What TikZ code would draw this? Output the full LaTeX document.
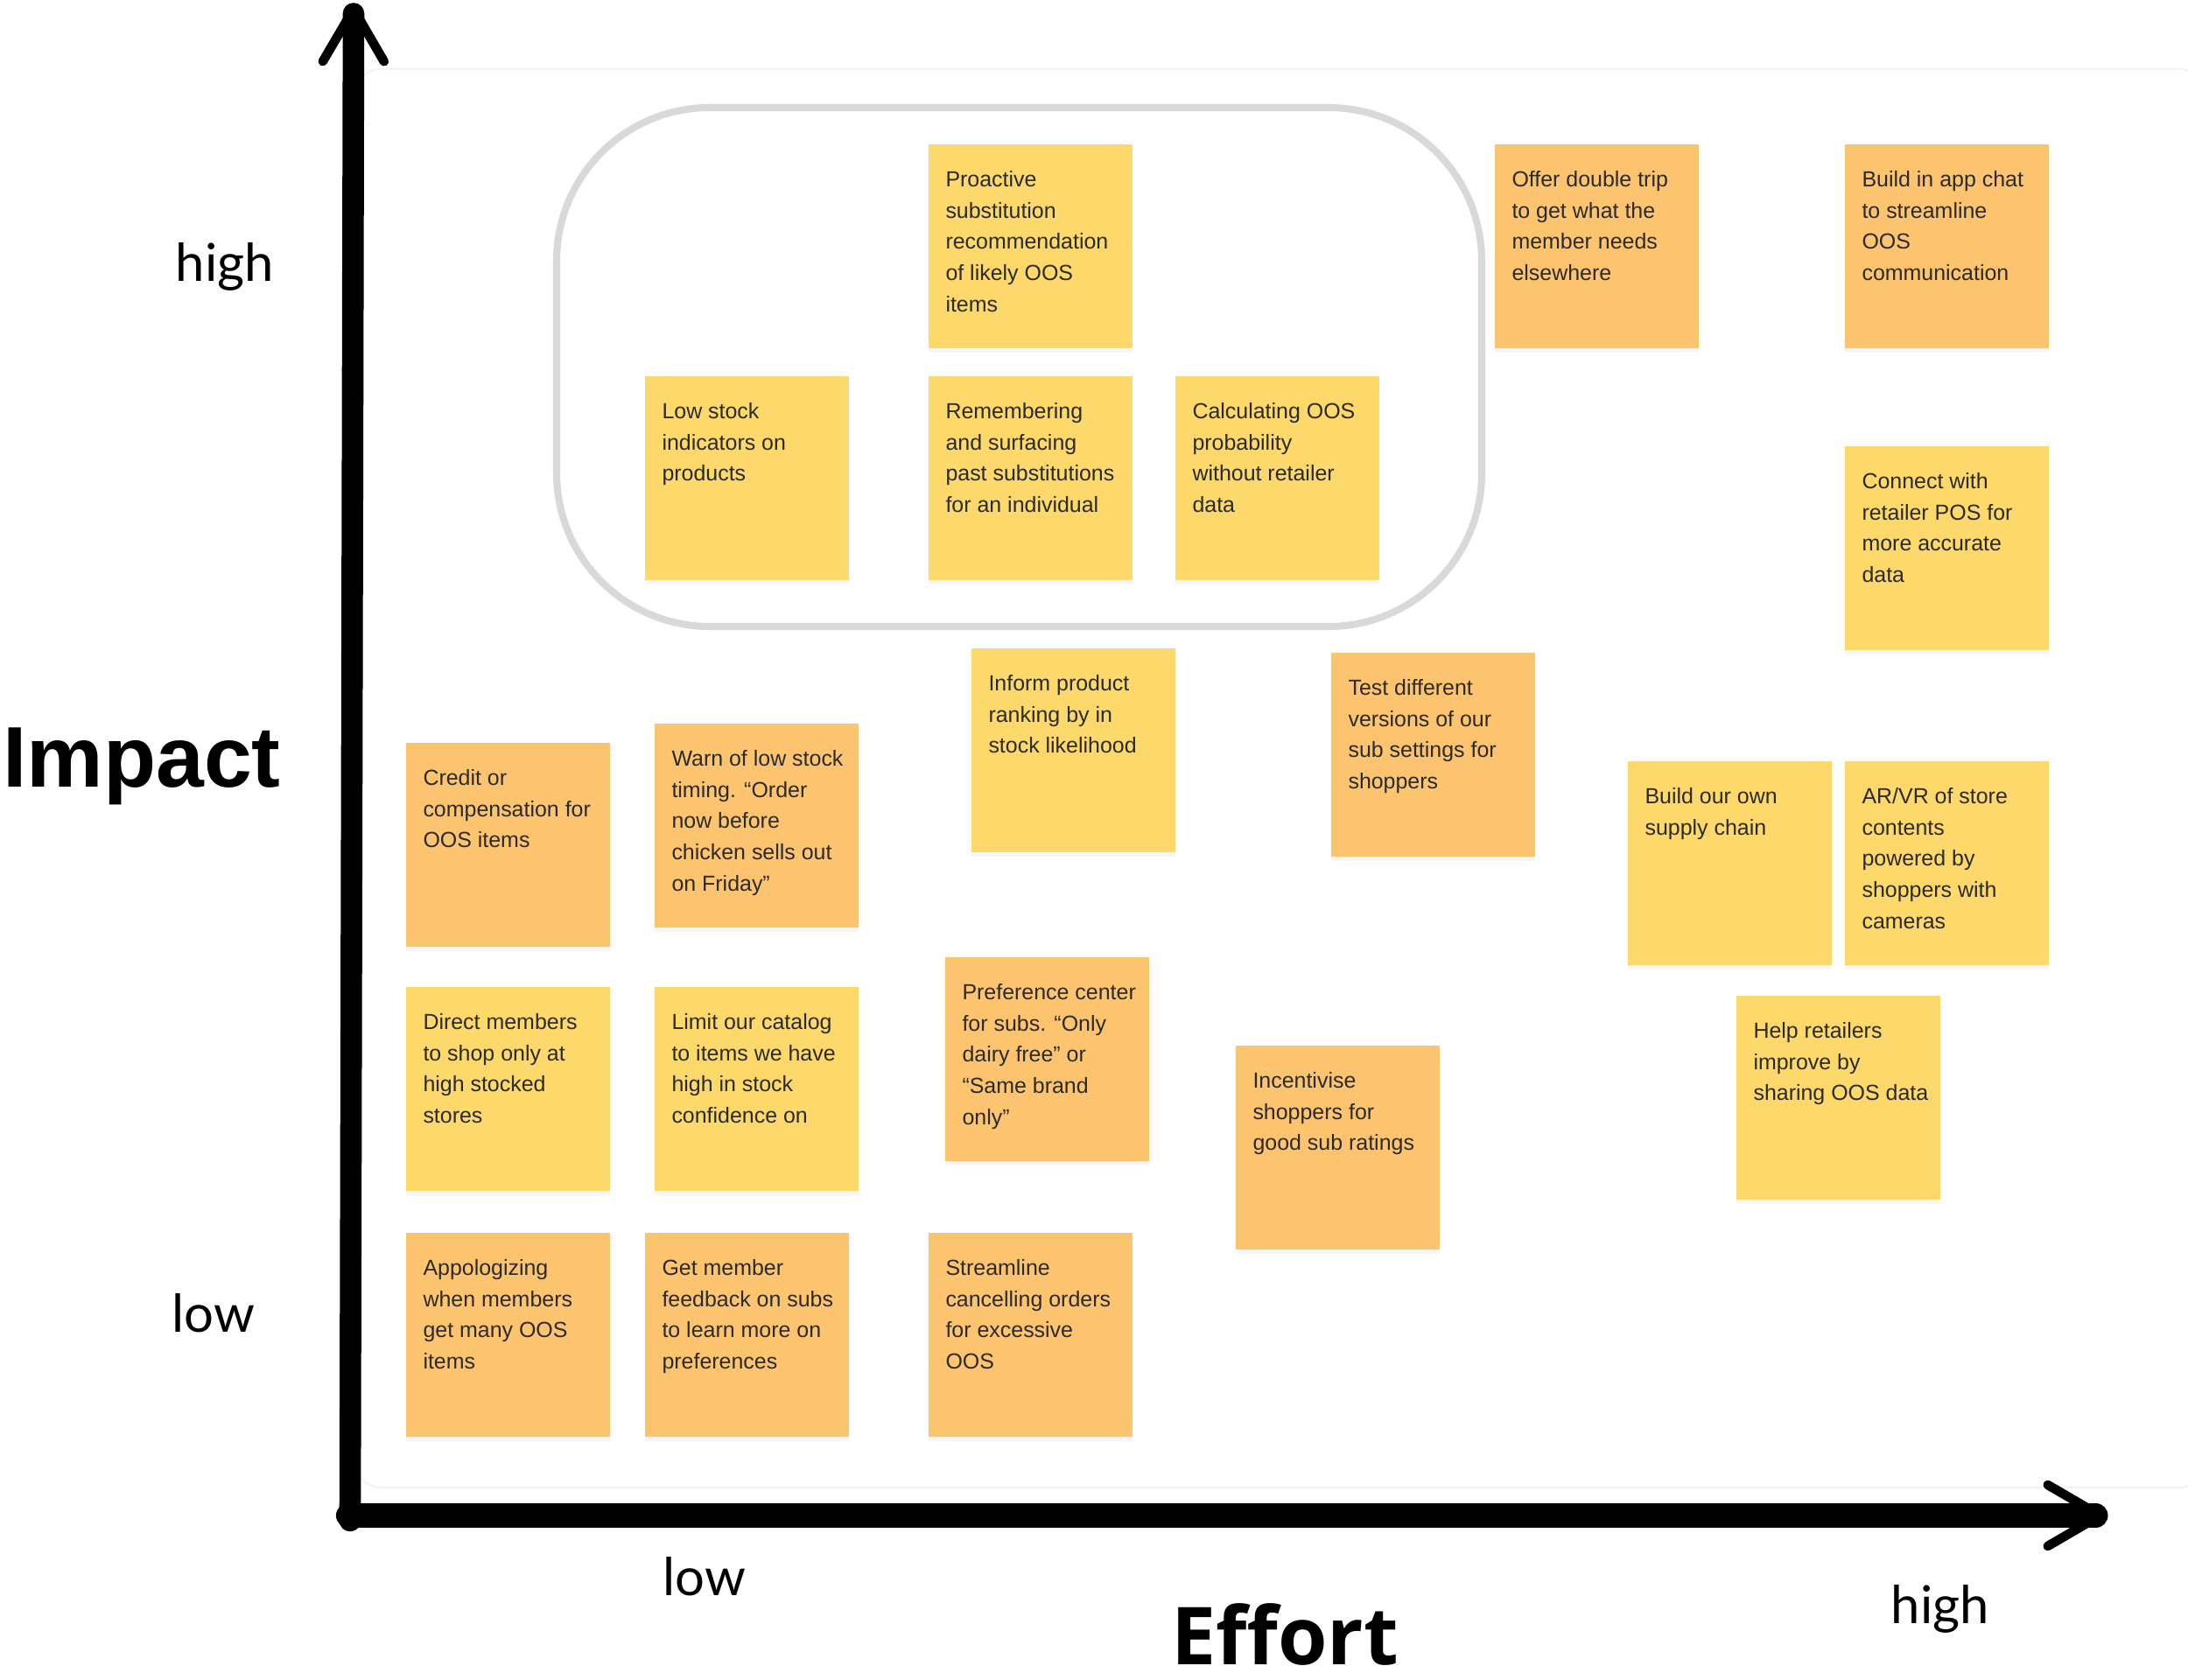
\documentclass[tikz,border=0pt]{standalone}
\usepackage{fontspec}
\setmainfont{Liberation Sans}
\newfontfamily\axisfont{Lato}
\newfontfamily\effortfont{Open Sans}
\usetikzlibrary{arrows.meta, shadows}
\definecolor{stickyyellow}{HTML}{FDD86B}
\definecolor{stickyorange}{HTML}{FDC470}
\definecolor{stickytext}{HTML}{2B2B2B}
\definecolor{groupgray}{HTML}{D9D9D9}
\definecolor{boardgray}{HTML}{F3F3F3}
\newcommand{\stickylines}[1]{\parbox[c][1.93cm][t]{1.93cm}{\vspace*{0.03cm}\raggedright\strut#1\par}}
\tikzset{
  sticky/.style={rectangle, fill=#1, minimum size=2.33cm, inner sep=0.2cm,
                 text=stickytext, font=\fontsize{7.1}{10.15}\selectfont,
                 drop shadow={shadow xshift=0pt, shadow yshift=-1.2pt, opacity=0.07}},
  axisline/.style={line width=#1, line cap=round,
                   -{Straight Barb[length=0.6cm, width=0.7cm, line width=3pt, round]}},
  axislabel/.style={font=\axisfont\fontsize{17}{17}\selectfont, anchor=base}
}

\begin{document}
\begin{tikzpicture}
    \useasboundingbox (0,0) rectangle (25,19.2);
    % board and grouping
    \draw[boardgray, line width=0.6pt, rounded corners=0.3cm] (4.05,2.2) rectangle (25.2,18.41);
    \draw[groupgray, line width=2.3pt, rounded corners=1.75cm] (6.36,12.04) rectangle (16.93,17.97);

    % high impact, low effort group
    \node[sticky=stickyyellow] (proactive) at (11.77,16.38)
        {\stickylines{Proactive\\ substitution\\ recommendation\\ of likely OOS\\ items}};
    \node[sticky=stickyyellow] (lowstock) at (8.53,13.73)
        {\stickylines{Low stock\\ indicators on\\ products}};
    \node[sticky=stickyyellow] (remember) at (11.77,13.73)
        {\stickylines{Remembering\\ and surfacing\\ past substitutions\\ for an individual}};
    \node[sticky=stickyyellow] (calculate) at (14.59,13.73)
        {\stickylines{Calculating OOS\\ probability\\ without retailer\\ data}};

    % high impact, high effort
    \node[sticky=stickyorange] (doubletrip) at (18.24,16.38)
        {\stickylines{Offer double trip\\ to get what the\\ member needs\\ elsewhere}};
    \node[sticky=stickyorange] (appchat) at (22.24,16.38)
        {\stickylines{Build in app chat\\ to streamline\\ OOS\\ communication}};
    \node[sticky=stickyyellow] (retailerpos) at (22.24,12.93)
        {\stickylines{Connect with\\ retailer POS for\\ more accurate\\ data}};

    % middle band
    \node[sticky=stickyyellow] (ranking) at (12.26,10.62)
        {\stickylines{Inform product\\ ranking by in\\ stock likelihood}};
    \node[sticky=stickyorange] (versions) at (16.37,10.57)
        {\stickylines{Test different\\ versions of our\\ sub settings for\\ shoppers}};
    \node[sticky=stickyorange] (credit) at (5.80,9.54)
        {\stickylines{Credit or\\ compensation for\\ OOS items}};
    \node[sticky=stickyorange] (warn) at (8.64,9.76)
        {\stickylines{\mbox{Warn of low stock}\\ timing. “Order\\ now before\\ chicken sells out\\ on Friday”}};
    \node[sticky=stickyyellow] (supply) at (19.76,9.33)
        {\stickylines{Build our own\\ supply chain}};
    \node[sticky=stickyyellow] (arvr) at (22.24,9.33)
        {\stickylines{AR/VR of store\\ contents\\ powered by\\ shoppers with\\ cameras}};

    \node[sticky=stickyyellow] (direct) at (5.80,6.75)
        {\stickylines{Direct members\\ to shop only at\\ high stocked\\ stores}};
    \node[sticky=stickyyellow] (catalog) at (8.64,6.75)
        {\stickylines{Limit our catalog\\ to items we have\\ high in stock\\ confidence on}};
    \node[sticky=stickyorange] (preference) at (11.96,7.09)
        {\stickylines{\mbox{Preference center}\\ for subs. “Only\\ dairy free” or\\ “Same brand\\ only”}};
    \node[sticky=stickyorange] (incentive) at (15.28,6.08)
        {\stickylines{Incentivise\\ shoppers for\\ good sub ratings}};
    \node[sticky=stickyyellow] (helpretail) at (21.00,6.65)
        {\stickylines{Help retailers\\ improve by\\ \mbox{sharing OOS data}}};

    % low impact
    \node[sticky=stickyorange] (apology) at (5.80,3.94)
        {\stickylines{Appologizing\\ when members\\ get many OOS\\ items}};
    \node[sticky=stickyorange] (feedback) at (8.53,3.94)
        {\stickylines{Get member\\ \mbox{feedback on subs}\\ to learn more on\\ preferences}};
    \node[sticky=stickyorange] (cancel) at (11.77,3.94)
        {\stickylines{Streamline\\ cancelling orders\\ for excessive\\ OOS}};

    % axes
    \coordinate (origin) at (4.00,1.82);
    \coordinate (ytip) at (4.04,19.15);
    \coordinate (xtip) at (24.05,1.88);
    \draw[axisline=7pt] (origin) -- (ytip);
    \draw[axisline=8pt] (3.98,1.88) -- (xtip);

    \node[axislabel] (yhigh) at (2.57,15.98) {high};
    \node[axislabel] (ylow) at (2.44,3.97) {low};
    \node[font=\bfseries\fontsize{28}{28}\selectfont, anchor=base] (impact) at (1.62,10.20) {Impact};
    \node[axislabel] (xlow) at (8.05,0.96) {low};
    \node[font=\effortfont\bfseries\fontsize{26}{26}\selectfont, anchor=base] (effort) at (14.68,0.17) {Effort};
    \node[axislabel] (xhigh) at (22.17,0.64) {high};
  \end{tikzpicture}
\end{document}
